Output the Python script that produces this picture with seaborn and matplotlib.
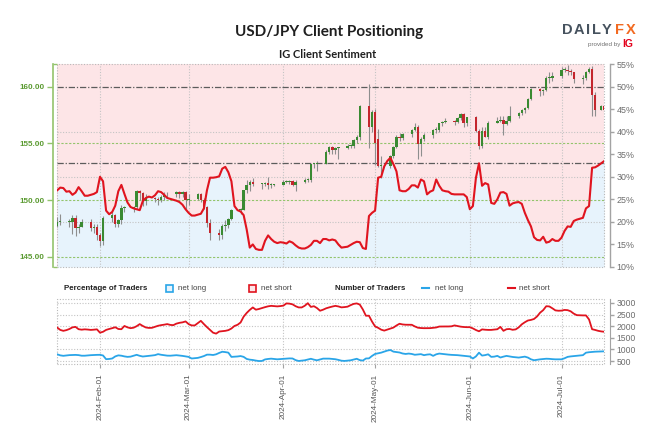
import matplotlib
matplotlib.use("Agg")
import matplotlib.pyplot as plt
import matplotlib.dates as mdates
from matplotlib.patches import Rectangle
from matplotlib.lines import Line2D
from matplotlib.ticker import FixedLocator
from matplotlib import font_manager as fm
import numpy as np
import pandas as pd
import seaborn as sns

# ---------------- data ----------------
title = "USD/JPY Client Positioning"
subtitle = "IG Client Sentiment"

sentiment_start = "2024-01-18"
net_long_pct = [
    27.0, 27.6, 27.5, 26.7, 26.8, 26.0, 26.5, 27.7, 26.8, 25.8, 25.8, 26.0, 26.2, 26.6,
    30.0, 29.0, 22.5, 21.7, 22.2, 23.6, 26.8, 28.2, 26.2, 24.3, 23.3, 23.0, 22.8, 22.6, 24.6,
    25.3, 25.6, 25.4, 25.9, 26.8, 26.6, 26.0, 25.3, 25.1, 24.9, 24.7, 24.4, 23.8, 22.8,
    22.0, 21.4, 21.4, 21.6, 21.8, 23.0, 27.0, 29.8, 29.8, 29.9, 30.1, 31.8, 32.2, 31.0, 29.0,
    23.5, 22.6, 22.3, 21.5, 18.3, 14.3, 15.0, 14.0, 13.8, 13.8, 15.8, 17.0, 16.2, 15.6, 15.3, 15.5,
    15.4, 15.2, 15.7, 15.4, 14.8, 14.3, 14.1, 14.1, 14.4, 14.9, 15.8, 15.8, 15.3, 16.2, 16.2,
    15.9, 16.1, 15.9, 15.0, 14.3, 14.4, 14.5, 14.9, 15.3, 15.6, 15.5, 14.2, 14.0, 21.3, 22.0,
    22.5, 29.8, 30.0, 32.3, 33.5, 34.2, 32.8, 31.2, 27.0, 26.8, 26.8, 27.3, 28.1, 28.1, 27.6,
    29.4, 29.0, 26.1, 26.7, 27.0, 29.4, 28.0, 27.0, 26.8, 26.7, 26.2, 26.1, 26.1, 26.1, 26.1, 25.5,
    22.8, 23.5, 29.8, 33.0, 28.0, 28.6, 28.3, 24.2, 24.0, 25.0, 26.5, 26.6, 26.2, 23.6, 24.1,
    24.3, 24.4, 24.0, 22.0, 20.4, 19.0, 16.6, 16.0, 15.9, 16.7, 15.4, 15.6, 16.2, 15.8, 15.8,
    16.5, 18.0, 19.0, 18.9, 20.2, 20.5, 20.7, 20.9, 23.0, 23.5, 32.0, 32.1, 32.5, 33.0, 33.5,
]
traders_net_short = [
    1940, 1840, 1800, 1830, 1880, 1950, 1970, 1870, 1850, 1865, 1855, 1840, 1850, 1865,
    1720, 1760, 1840, 1880, 1915, 1955, 1880, 1870, 2010, 1950, 1915, 1935, 2000, 2090, 2010,
    1945, 1925, 1930, 1975, 2018, 2045, 2065, 2090, 2055, 2045, 2110, 2145, 2165, 2205,
    2090, 2033, 2033, 2130, 2230, 2090, 1960, 1840, 1720, 1680, 1770, 1785, 1800, 1830, 1900,
    2010, 2060, 2160, 2410, 2570, 2700, 2807, 2710, 2740, 2780, 2820, 2855, 2875, 2865, 2852, 2865,
    2885, 2980, 2970, 2940, 2860, 2807, 2807, 2880, 2990, 2830, 2860, 2780, 2665, 2710, 2770,
    2810, 2845, 2875, 2850, 2810, 2822, 2840, 2905, 2960, 2980, 2930, 2720, 2450, 2450, 2200,
    1990, 1930, 1850, 1810, 1855, 1900, 1940, 2030, 2105, 2075, 2063, 2063, 2060, 1990, 1935,
    1920, 1914, 1914, 1916, 1930, 1945, 1985, 1988, 1988, 1988, 1995, 2033, 2005, 1980, 1965, 1958,
    1958, 1905, 1835, 1780, 1862, 1848, 1840, 1840, 1855, 1869, 1970, 1800, 1870, 1880, 1845,
    1862, 1950, 2080, 2170, 2245, 2270, 2310, 2420, 2583, 2690, 2860, 2850, 2770, 2680, 2665,
    2670, 2700, 2690, 2640, 2540, 2475, 2468, 2464, 2464, 2290, 1870, 1838, 1800, 1775, 1760,
]
traders_net_long = [
    790, 745, 725, 740, 755, 760, 765, 755, 730, 730, 743, 753, 760, 766,
    768, 740, 580, 590, 610, 700, 745, 730, 700, 680, 690, 730, 768, 725, 695,
    708, 722, 738, 755, 798, 770, 752, 733, 730, 743, 752, 738, 722, 700,
    679, 610, 625, 636, 672, 715, 775, 775, 760, 790, 850, 900, 885, 862, 679,
    688, 697, 715, 680, 590, 560, 545, 520, 500, 505, 570, 590, 603, 590, 575, 585,
    597, 607, 614, 610, 540, 503, 518, 533, 565, 598, 560, 532, 570, 604, 604,
    604, 590, 578, 550, 515, 505, 517, 532, 565, 598, 540, 520, 610, 615, 720,
    805, 832, 862, 905, 950, 975, 905, 885, 868, 825, 805, 822, 805, 770, 785,
    797, 753, 778, 790, 723, 790, 822, 806, 790, 777, 766, 760, 753, 740, 728, 712,
    697, 610, 700, 860, 735, 755, 790, 680, 690, 723, 652, 690, 722, 700, 676,
    662, 649, 670, 690, 650, 575, 535, 555, 574, 585, 600, 595, 582, 574, 574,
    574, 620, 680, 700, 713, 725, 740, 753, 860, 880, 893, 903, 908, 915, 918,
]
current_net_long_pct = 33.1
midline_pct = 50

candle_dates = list(pd.bdate_range("2024-01-18", "2024-07-12").strftime("%Y-%m-%d")) + ["2024-07-14", "2024-07-15"]
price_open = [
    147.7, 148.1, 148.1, 148.1, 148.4, 147.5, 147.6, 148.1, 147.5, 147.6,
    146.9, 146.4, 148.4, 148.7, 147.9, 148.2, 149.3, 149.3, 149.4, 150.8, 150.6, 149.9, 150.2, 150.1, 150.0, 150.3, 150.5, 150.5, 150.7, 150.5, 150.7,
    150.0, 150.1, 150.5, 150.0, 149.4, 148.0, 147.1, 146.9, 147.7, 147.8, 148.3, 149.1, 149.1, 150.9, 151.3, 151.6, 151.4, 151.4, 151.5, 151.3, 151.3,
    151.3, 151.6, 151.6, 151.7, 151.3, 151.6, 151.8, 151.8, 153.2, 153.2, 153.2, 154.2, 154.7, 154.4, 154.6, 154.6, 154.8, 154.8, 155.3, 155.6, 158.3, 156.4,
    157.8, 155.4, 153.0, 153.0, 153.9, 154.7, 155.6, 155.5, 155.8, 156.2, 156.4, 154.9, 155.4, 155.7, 156.2, 156.2, 156.8, 156.9, 157.0, 156.9, 157.2, 157.6, 156.8,
    157.3, 156.1, 154.8, 156.1, 155.6, 156.8, 157.0, 157.1, 156.7, 157.0, 157.4, 157.7, 157.9, 158.1, 158.9, 159.8, 159.6, 159.7, 160.8, 160.8,
    160.9, 161.5, 161.5, 161.4, 161.3, 160.7, 160.8, 161.3, 161.6, 159.3, 157.9, 158.3,
]
price_high = [
    148.5, 148.8, 148.3, 148.7, 148.7, 147.9, 148.3, 148.3, 147.9, 147.9,
    147.1, 148.6, 148.9, 148.8, 148.3, 149.6, 149.5, 149.5, 150.9, 150.9, 150.7, 150.5, 150.3, 150.3, 150.4, 150.7, 150.7, 150.8, 150.8, 150.8, 150.8,
    150.5, 150.6, 150.6, 150.2, 149.5, 148.3, 147.4, 147.9, 148.2, 148.4, 149.2, 149.3, 150.9, 151.8, 151.8, 151.9, 151.5, 151.6, 152.0, 151.5, 151.4,
    151.8, 151.8, 151.8, 151.8, 151.8, 151.9, 151.9, 153.2, 153.3, 153.4, 154.4, 154.8, 154.8, 154.7, 154.7, 154.9, 154.9, 155.4, 155.7, 158.4, 160.2, 157.9,
    158.0, 156.3, 153.9, 154.0, 154.8, 155.7, 155.9, 155.9, 156.3, 156.8, 156.6, 155.6, 155.9, 156.3, 156.4, 156.8, 157.0, 157.2, 157.1, 157.3, 157.7, 157.7, 157.3,
    157.4, 156.3, 156.4, 156.4, 157.0, 157.3, 157.4, 157.4, 157.4, 158.3, 157.8, 158.0, 158.2, 159.0, 159.9, 159.9, 159.8, 160.9, 161.3, 161.3,
    161.7, 161.7, 161.95, 161.6, 161.3, 161.0, 161.4, 161.7, 161.8, 159.5, 158.4, 158.5,
]
price_low = [
    147.6, 147.8, 147.6, 147.0, 146.8, 147.1, 147.6, 147.3, 147.1, 146.5,
    145.9, 146.0, 148.1, 147.6, 147.6, 147.9, 148.9, 148.9, 149.2, 150.0, 149.5, 149.6, 149.8, 149.6, 149.8, 150.0, 150.2, 150.3, 150.2, 150.3, 149.2,
    149.6, 150.0, 149.8, 149.2, 147.6, 146.5, 146.5, 146.6, 147.3, 147.5, 148.2, 148.8, 149.1, 150.6, 150.8, 151.2, 151.0, 151.2, 151.0, 151.1, 151.2,
    151.3, 151.5, 151.4, 151.2, 150.8, 151.5, 151.6, 151.6, 152.8, 152.6, 153.2, 154.1, 154.1, 154.1, 153.6, 154.5, 154.6, 154.6, 155.0, 155.3, 154.6, 156.0,
    153.1, 152.9, 151.9, 152.8, 153.7, 154.6, 155.2, 155.3, 155.6, 156.1, 153.6, 153.9, 155.2, 155.5, 155.9, 156.0, 156.5, 156.8, 156.6, 156.8, 157.1, 156.4, 156.5,
    156.0, 154.5, 154.6, 155.6, 155.4, 156.8, 156.9, 155.7, 156.6, 156.9, 157.2, 157.5, 157.7, 158.0, 158.8, 159.2, 159.3, 159.6, 160.3, 160.5,
    160.8, 161.3, 161.0, 161.0, 160.3, 160.2, 160.6, 161.2, 157.4, 157.4, 157.9, 157.8,
]
price_close = [
    148.1, 148.1, 148.1, 148.4, 147.5, 147.6, 148.1, 147.5, 147.6, 146.9,
    146.4, 148.4, 148.7, 147.9, 148.2, 149.3, 149.3, 149.4, 150.8, 150.6, 149.9, 150.2, 150.1, 150.0, 150.3, 150.5, 150.5, 150.7, 150.5, 150.7, 150.0,
    150.1, 150.5, 150.0, 149.4, 148.0, 147.1, 146.9, 147.7, 147.8, 148.3, 149.1, 149.1, 150.9, 151.3, 151.6, 151.4, 151.4, 151.5, 151.3, 151.3, 151.3,
    151.6, 151.6, 151.7, 151.3, 151.6, 151.8, 151.8, 153.2, 153.2, 153.2, 154.2, 154.7, 154.4, 154.6, 154.6, 154.8, 154.8, 155.3, 155.6, 158.3, 156.4, 157.8,
    155.0, 153.0, 153.0, 153.9, 154.7, 155.6, 155.5, 155.8, 156.2, 156.4, 154.9, 155.4, 155.7, 156.2, 156.2, 156.8, 156.9, 157.0, 156.9, 157.2, 157.6, 156.8, 157.3,
    156.1, 154.8, 156.1, 155.6, 156.8, 157.0, 157.1, 156.7, 157.0, 157.4, 157.7, 157.9, 158.1, 158.9, 159.8, 159.6, 159.7, 160.8, 160.8, 160.9,
    161.5, 161.5, 161.4, 161.3, 160.7, 160.8, 161.3, 161.6, 159.3, 157.9, 158.3, 157.9,
]

price_ticks = [145, 150, 155, 160]
pct_ticks = [10, 15, 20, 25, 30, 35, 40, 45, 50, 55]
pct_grid = [20, 30, 40]
trader_ticks = [500, 1000, 1500, 2000, 2500, 3000]
month_ticks = ["2024-02-01", "2024-03-01", "2024-04-01", "2024-05-01", "2024-06-01", "2024-07-01"]

# ---------------- style ----------------
W, H = 659, 429
RED = "#e0141f"
BLUE = "#2aa5e8"
PINK = "#fde5e7"
LIGHTBLUE = "#e7f3fc"
GREEN_TXT = "#5a9a30"
GREEN_LINE = "#93c46c"
GRID = "#c4c4c4"
UP = "#3a8a32"
DOWN = "#c4262d"
WICK = "#8e8e8e"

names = {f.name for f in fm.fontManager.ttflist}
NARROW = "Liberation Sans Narrow" if "Liberation Sans Narrow" in names else "Liberation Sans"
NS = 1.0 if NARROW == "Liberation Sans Narrow" else 0.84
TFONT = "Lato" if "Lato" in names else "DejaVu Sans"
plt.rcParams["font.family"] = ["Liberation Sans", "DejaVu Sans"]

sent_dates = pd.date_range(sentiment_start, periods=len(net_long_pct), freq="D")
cd = pd.to_datetime(candle_dates)
o = np.array(price_open); h = np.array(price_high); l = np.array(price_low); c = np.array(price_close)
months = pd.to_datetime(month_ticks)
xmin = pd.Timestamp("2024-01-17 22:30")
xmax = pd.Timestamp("2024-07-14 21:30")

fig = plt.figure(figsize=(W / 100, H / 100), dpi=100)
rect_main = [57 / W, 1 - 267 / H, 547 / W, 203 / H]
rect_low = [57 / W, 1 - 364 / H, 547 / W, 65 / H]

# background / fill axis (percent scale)
ax_bg = fig.add_axes(rect_main)
ax_bg.set_facecolor(PINK)
ax_bg.fill_between(sent_dates, 10, net_long_pct, color=LIGHTBLUE, lw=0, zorder=1)
for v in pct_grid:
    ax_bg.axhline(v, color=GRID, lw=0.8, ls=(0, (1, 1.5)), zorder=2)
for m in months:
    ax_bg.axvline(m, color=GRID, lw=0.8, ls=(0, (1, 1.5)), zorder=2)
for v in [midline_pct, current_net_long_pct]:
    ax_bg.axhline(v, color="#5c5c5c", lw=0.9, ls=(0, (5, 1.5, 1, 1.5)), zorder=3)
ax_bg.set_ylim(10, 55)
ax_bg.set_xlim(xmin, xmax)
ax_bg.add_patch(Rectangle((0, 0), 1, 1, transform=ax_bg.transAxes, fill=False,
                          ec="#b9b9b9", lw=0.8, ls=(0, (1, 1.5)), zorder=4, clip_on=False))

# price axis
ax_px = ax_bg.twinx()
ax_bg.xaxis.set_visible(False)
ax_bg.yaxis.set_visible(False)
for s in ax_bg.spines.values():
    s.set_visible(False)
ax_px.set_ylim(144.09, 162.0)
for p in price_ticks[:-1]:
    ax_px.axhline(p, color=GREEN_LINE, lw=0.8, ls=(0, (2, 1.5)), zorder=0.5)
ax_px.vlines(cd, l, h, color=WICK, lw=0.8, zorder=2)
colors = [UP if cc >= oo else DOWN for oo, cc in zip(o, c)]
ax_px.bar(cd, np.maximum(np.abs(c - o), 0.07), bottom=np.minimum(o, c), width=0.8,
          color=colors, lw=0, zorder=3)
ax_px.yaxis.set_ticks_position("left")
ax_px.set_yticks(price_ticks)
ax_px.set_yticklabels([f"{p:.2f}" for p in price_ticks])
ax_px.yaxis.set_minor_locator(FixedLocator([144.09, 162.0]))
for k in ["top", "bottom", "right"]:
    ax_px.spines[k].set_visible(False)
ax_px.spines["left"].set_visible(True)
ax_px.spines["left"].set_position(("outward", 3))
ax_px.spines["left"].set_color(GREEN_LINE)
ax_px.spines["left"].set_linewidth(1.2)
ax_px.tick_params(axis="y", which="major", left=True, right=False, labelleft=True, labelright=False,
                  length=4, width=1.0, color=GREEN_LINE, labelcolor=GREEN_TXT, labelsize=5.8, pad=2)
ax_px.tick_params(axis="y", which="minor", left=True, right=False, direction="in",
                  length=3, width=1.0, color=GREEN_LINE)
for t in ax_px.get_yticklabels():
    t.set_fontweight("bold")

# percentage axis with sentiment line
ax_pct = ax_bg.twinx()
sns.lineplot(x=sent_dates, y=net_long_pct, ax=ax_pct, color=RED, lw=1.5, legend=False, zorder=5)
ax_pct.set_ylim(10, 55)
ax_pct.set_yticks(pct_ticks)
ax_pct.set_yticklabels([f"{v}%" for v in pct_ticks])
ax_pct.set_xlabel(""); ax_pct.set_ylabel("")
for k in ["top", "bottom", "left"]:
    ax_pct.spines[k].set_visible(False)
ax_pct.spines["right"].set_position(("outward", 4))
ax_pct.spines["right"].set_color("#a3a3a3")
ax_pct.spines["right"].set_linewidth(1.0)
ax_pct.tick_params(axis="y", right=True, left=False, labelright=True, labelleft=False,
                   length=3, width=1.0, color="#a3a3a3", labelcolor="#6c6c6c", labelsize=6.4, pad=2)
ax_bg.set_xlim(xmin, xmax)

# lower panel: number of traders
ax_low = fig.add_axes(rect_low)
sns.lineplot(x=sent_dates, y=traders_net_short, ax=ax_low, color=RED, lw=1.3, legend=False)
sns.lineplot(x=sent_dates, y=traders_net_long, ax=ax_low, color=BLUE, lw=1.3, legend=False)
ax_low.set_xlim(xmin, xmax)
ax_low.set_ylim(373, 3170)
ax_low.set_xlabel(""); ax_low.set_ylabel("")
ax_low.yaxis.tick_right()
ax_low.set_yticks(trader_ticks)
ax_low.set_xticks(months)
ax_low.xaxis.set_major_formatter(mdates.DateFormatter("%Y-%b-%d"))
ax_low.grid(True, color=GRID, lw=0.8, ls=(0, (1, 1.5)))
ax_low.set_axisbelow(True)
for k in ["top", "bottom", "left"]:
    ax_low.spines[k].set_visible(False)
ax_low.spines["right"].set_position(("outward", 4))
ax_low.spines["right"].set_color("#a3a3a3")
ax_low.add_patch(Rectangle((0, 0), 1, 1, transform=ax_low.transAxes, fill=False,
                           ec="#b9b9b9", lw=0.8, ls=(0, (1, 1.5)), zorder=0.5, clip_on=False))
ax_low.tick_params(axis="y", length=3, width=1.0, color="#a3a3a3", labelcolor="#6c6c6c",
                   labelsize=6.2, pad=2)
ax_low.tick_params(axis="x", length=3, width=0.8, color="#a3a3a3", labelcolor="#555555",
                   labelsize=7.0 * NS, pad=4)
for t in ax_low.get_xticklabels():
    t.set_rotation(90)
    t.set_family(NARROW)

# titles and logo
fig.text(329 / W, 1 - 32 / H, title, ha="center", va="center", fontsize=11,
         fontweight="bold", family=TFONT, color="#1f1f1f")
fig.text(328 / W, 1 - 55 / H, subtitle, ha="center", va="center", fontsize=8,
         fontweight="bold", family=TFONT, color="#1f1f1f")
logo_letters = ["D", "A", "I", "L", "Y", "F", "X"]
logo_x = [567, 578.5, 588, 596.5, 607, 620, 631]
for ch, lx in zip(logo_letters, logo_x):
    fig.text(lx / W, 1 - 30 / H, ch, ha="center", va="center", fontsize=10.5, fontweight="bold",
             family="Liberation Sans", color="#f26a21" if ch in "FX" else "#46525e")
fig.text(620 / W, 1 - 44.5 / H, "provided by", ha="right", va="center", fontsize=4.5,
         color="#6f6f6f")
fig.text(622 / W, 1 - 44 / H, "IG", ha="left", va="center", fontsize=7.5, fontweight="bold",
         color="#e3001b")

# legend row
ly = 1 - 288 / H
lfs = 6.8 * NS
fig.text(64 / W, ly, "Percentage of Traders", ha="left", va="center", fontsize=lfs,
         fontweight="bold", family=NARROW, color="#222222")
fig.add_artist(Rectangle((166 / W, ly - 3.5 / H), 7 / W, 7 / H, transform=fig.transFigure,
                         fc=LIGHTBLUE, ec=BLUE, lw=1.2))
fig.text(178 / W, ly, "net long", ha="left", va="center", fontsize=lfs, family=NARROW, color="#444444")
fig.add_artist(Rectangle((249 / W, ly - 3.5 / H), 7 / W, 7 / H, transform=fig.transFigure,
                         fc=PINK, ec=RED, lw=1.2))
fig.text(261 / W, ly, "net short", ha="left", va="center", fontsize=lfs, family=NARROW, color="#444444")
fig.text(335 / W, ly, "Number of Traders", ha="left", va="center", fontsize=lfs,
         fontweight="bold", family=NARROW, color="#222222")
fig.add_artist(Line2D([422 / W, 429 / W], [ly, ly], transform=fig.transFigure, color=BLUE, lw=1.5))
fig.text(435 / W, ly, "net long", ha="left", va="center", fontsize=lfs, family=NARROW, color="#444444")
fig.add_artist(Line2D([508 / W, 515 / W], [ly, ly], transform=fig.transFigure, color=RED, lw=1.5))
fig.text(519 / W, ly, "net short", ha="left", va="center", fontsize=lfs, family=NARROW, color="#444444")

fig.savefig("out.png", dpi=100)
